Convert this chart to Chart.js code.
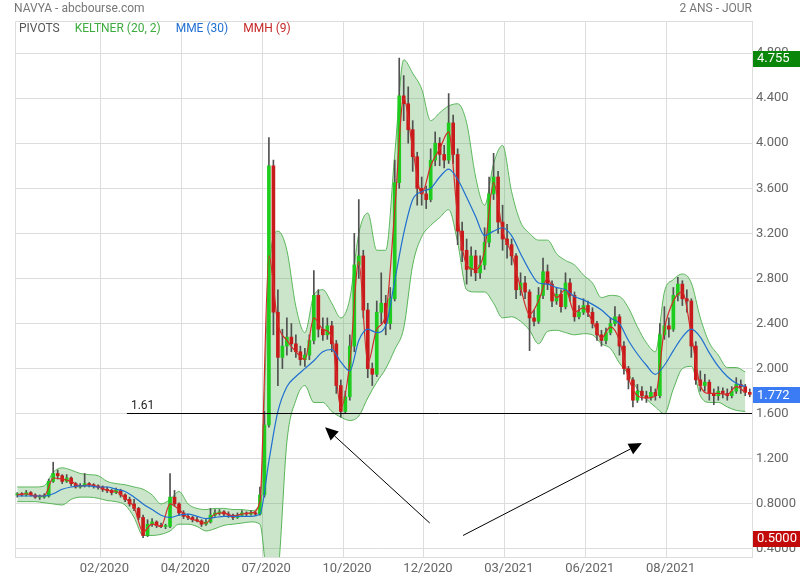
<!doctype html>
<html lang="fr">
  <head>
    <title>NAVYA - abcbourse.com</title>
    <script src="https://cdn.jsdelivr.net/npm/chart.js"></script>
    <style>
      body { margin: 0; background: #fff; }
      #chart { display: block; }
    </style>
  </head>
  <body>
    <canvas id="chart" width="800" height="580"></canvas>

    <script>
      // daily candles, one every ~3 sessions
      const opens = [
        0.88,0.89,0.88,0.90,0.88,0.86,0.86,0.87,1.00,1.07,
        1.05,1.00,1.03,0.98,0.95,0.96,0.98,0.97,0.96,0.95,
        0.93,0.92,0.90,0.92,0.88,0.84,0.80,0.76,0.68,0.52,
        0.62,0.64,0.61,0.60,0.60,0.86,0.80,0.72,0.69,0.68,
        0.66,0.65,0.62,0.64,0.70,0.72,0.73,0.71,0.70,0.68,
        0.70,0.72,0.71,0.72,0.71,0.88,1.50,3.80,2.50,2.10,
        2.20,2.28,2.22,2.15,2.08,2.12,2.25,2.65,2.35,2.30,
        2.38,2.22,1.85,1.62,1.75,2.20,2.92,3.00,2.52,2.00,
        1.95,2.50,2.58,2.40,2.62,3.65,4.42,4.35,4.12,3.88,
        3.60,3.55,3.50,3.85,4.00,3.90,3.85,4.18,3.90,3.22,
        3.05,2.88,3.00,2.85,2.92,3.12,3.55,3.70,3.30,3.15,
        3.10,3.00,2.70,2.76,2.68,2.45,2.42,2.65,2.86,2.75,
        2.60,2.66,2.55,2.76,2.65,2.46,2.50,2.56,2.50,2.40,
        2.30,2.25,2.32,2.40,2.46,2.20,2.00,1.90,1.72,1.80,
        1.76,1.74,1.79,1.76,2.30,2.38,2.35,2.65,2.75,2.62,
        2.60,2.20,1.90,1.85,1.88,1.78,1.76,1.80,1.78,1.76,
        1.80,1.86,1.84,1.79
      ];
      const highs = [
        0.90,0.90,0.92,0.91,0.89,0.88,0.89,1.02,1.17,1.10,
        1.06,1.06,1.04,0.99,0.98,1.07,0.99,0.98,0.97,0.96,
        0.95,0.93,0.94,0.93,0.89,0.86,0.84,0.77,0.70,0.66,
        0.67,0.65,0.63,0.62,1.07,0.92,0.81,0.74,0.71,0.69,
        0.68,0.66,0.66,0.76,0.75,0.75,0.74,0.73,0.71,0.72,
        0.74,0.73,0.74,0.73,0.95,1.62,4.05,3.85,2.70,2.35,
        2.45,2.40,2.30,2.20,2.18,2.30,2.87,2.70,2.45,2.45,
        2.42,2.25,1.90,1.80,2.30,3.20,3.50,3.05,2.58,2.05,
        2.60,2.85,2.65,2.72,3.85,4.755,4.60,4.50,4.20,3.92,
        3.70,3.62,3.95,4.10,4.05,3.98,4.44,4.25,3.95,3.30,
        3.15,3.08,3.05,3.00,3.25,3.70,3.91,3.75,3.45,3.28,
        3.15,3.02,2.85,2.82,2.70,2.52,2.72,2.98,2.92,2.78,
        2.72,2.70,2.85,2.80,2.68,2.56,2.62,2.60,2.54,2.42,
        2.34,2.36,2.45,2.55,2.48,2.24,2.02,1.92,1.86,1.84,
        1.80,1.84,1.82,2.40,2.55,2.45,2.72,2.81,2.78,2.70,
        2.62,2.24,1.98,1.95,1.90,1.82,1.84,1.83,1.82,1.84,
        1.92,1.90,1.86,1.82
      ];
      const lows = [
        0.86,0.87,0.87,0.87,0.85,0.84,0.85,0.86,0.99,1.02,
        0.98,0.99,0.96,0.94,0.94,0.95,0.95,0.94,0.93,0.91,
        0.90,0.88,0.89,0.86,0.82,0.78,0.74,0.66,0.50,0.51,
        0.60,0.59,0.59,0.58,0.59,0.78,0.70,0.67,0.66,0.64,
        0.64,0.60,0.61,0.63,0.69,0.70,0.69,0.68,0.66,0.67,
        0.69,0.69,0.70,0.70,0.70,0.86,1.48,2.30,1.85,2.00,
        2.12,2.15,2.10,2.03,2.02,2.08,2.22,2.28,2.25,2.26,
        2.15,1.78,1.57,1.60,1.72,2.15,2.80,2.45,1.92,1.85,
        1.93,2.40,2.30,2.35,2.60,3.60,4.20,4.00,3.75,3.45,
        3.45,3.42,3.48,3.80,3.80,3.78,3.82,3.82,3.10,2.95,
        2.75,2.82,2.78,2.80,2.88,3.08,3.50,3.20,3.05,2.98,
        2.92,2.62,2.65,2.62,2.16,2.38,2.40,2.62,2.70,2.55,
        2.57,2.50,2.53,2.60,2.42,2.44,2.48,2.46,2.36,2.25,
        2.20,2.22,2.30,2.38,2.12,1.95,1.82,1.66,1.70,1.72,
        1.70,1.72,1.72,1.74,2.26,2.28,2.33,2.60,2.56,2.50,
        2.10,1.86,1.80,1.80,1.72,1.68,1.72,1.74,1.72,1.74,
        1.78,1.78,1.76,1.75
      ];
      const closes = [
        0.89,0.88,0.90,0.88,0.86,0.86,0.87,1.00,1.07,1.05,
        1.00,1.03,0.98,0.95,0.96,0.98,0.97,0.96,0.95,0.93,
        0.92,0.90,0.92,0.88,0.84,0.80,0.76,0.68,0.52,0.62,
        0.64,0.61,0.60,0.60,0.86,0.80,0.72,0.69,0.68,0.66,
        0.65,0.62,0.64,0.70,0.72,0.73,0.71,0.70,0.68,0.70,
        0.72,0.71,0.72,0.71,0.88,1.50,3.80,2.50,2.10,2.20,
        2.28,2.22,2.15,2.08,2.12,2.25,2.65,2.35,2.30,2.38,
        2.22,1.85,1.62,1.75,2.20,2.92,3.00,2.52,2.00,1.95,
        2.50,2.58,2.40,2.62,3.65,4.42,4.35,4.12,3.88,3.60,
        3.55,3.50,3.85,4.00,3.90,3.85,4.18,3.90,3.22,3.05,
        2.88,3.00,2.85,2.92,3.12,3.55,3.70,3.30,3.15,3.10,
        3.00,2.70,2.76,2.68,2.45,2.42,2.65,2.86,2.75,2.60,
        2.66,2.55,2.76,2.65,2.46,2.50,2.56,2.50,2.40,2.30,
        2.25,2.32,2.40,2.46,2.20,2.00,1.90,1.72,1.80,1.76,
        1.74,1.79,1.76,2.30,2.38,2.35,2.65,2.75,2.62,2.60,
        2.20,1.90,1.85,1.88,1.78,1.76,1.80,1.78,1.76,1.80,
        1.86,1.84,1.79,1.772
      ];

      // indicators, one value every 2 candles
      const lineStep = 2;
      const keltnerUpper = [
        0.95,0.95,0.95,0.96,1.08,1.12,1.10,1.07,1.06,1.05,
        1.00,0.98,0.97,0.95,0.93,0.88,0.80,0.84,0.91,0.80,
        0.76,0.75,0.76,0.76,0.75,0.75,0.74,0.80,2.85,3.22,
        3.05,2.55,2.32,2.65,2.70,2.58,2.45,2.62,3.20,3.38,
        3.05,3.05,3.90,4.74,4.62,4.48,4.20,4.27,4.33,4.35,
        4.18,3.70,3.45,3.82,3.98,3.57,3.30,3.20,3.14,3.14,
        3.02,2.96,2.92,2.83,2.76,2.63,2.65,2.64,2.54,2.37,
        2.23,2.15,2.68,2.79,2.84,2.76,2.45,2.23,2.12,2.01,
        2.01,1.97
      ];
      const keltnerLower = [
        0.82,0.82,0.82,0.81,0.80,0.79,0.84,0.86,0.86,0.85,
        0.83,0.82,0.79,0.68,0.52,0.52,0.53,0.56,0.62,0.62,
        0.60,0.56,0.58,0.61,0.62,0.63,0.64,0.62,0.05,0.20,
        1.35,1.72,1.85,1.70,1.70,1.62,1.57,1.54,1.58,1.74,
        1.88,2.00,2.17,2.36,2.92,3.17,3.27,3.34,3.41,3.12,
        2.70,2.68,2.68,2.58,2.45,2.46,2.42,2.34,2.22,2.33,
        2.34,2.32,2.30,2.31,2.30,2.22,2.18,2.05,1.95,1.82,
        1.73,1.66,1.60,1.82,2.00,2.02,1.76,1.70,1.70,1.66,
        1.63,1.62
      ];
      const mme30 = [
        0.87,0.87,0.87,0.87,0.89,0.93,0.95,0.96,0.96,0.95,
        0.95,0.93,0.91,0.86,0.80,0.75,0.70,0.68,0.70,0.71,
        0.69,0.67,0.68,0.69,0.69,0.69,0.69,0.71,1.18,1.62,
        1.84,1.93,2.00,2.07,2.15,2.17,2.06,1.98,2.25,2.35,
        2.32,2.38,2.78,3.20,3.50,3.57,3.60,3.70,3.77,3.68,
        3.52,3.35,3.18,3.22,3.25,3.18,3.02,2.87,2.76,2.75,
        2.72,2.70,2.64,2.61,2.57,2.52,2.45,2.40,2.25,2.13,
        2.03,1.95,2.03,2.16,2.28,2.35,2.28,2.14,2.02,1.93,
        1.87,1.84
      ];
      const mmh9 = [
        0.88,0.89,0.87,0.87,1.03,1.02,1.00,0.96,0.97,0.95,
        0.92,0.91,0.85,0.77,0.55,0.62,0.60,0.80,0.75,0.68,
        0.65,0.63,0.71,0.72,0.69,0.71,0.72,0.82,3.00,2.40,
        2.25,2.15,2.08,2.45,2.35,2.28,1.65,2.05,2.95,2.05,
        2.35,2.48,3.40,4.40,3.95,3.55,3.80,3.95,4.10,3.35,
        2.92,2.88,3.05,3.65,3.22,3.02,2.72,2.48,2.60,2.80,
        2.63,2.70,2.50,2.54,2.42,2.27,2.37,2.25,1.92,1.76,
        1.74,1.76,2.35,2.60,2.68,2.30,1.85,1.78,1.78,1.77,
        1.84,1.79
      ];

      // axes
      const monthTicks = [18.5, 36.5, 54.5, 72.5, 90.5, 108.5, 126.5, 144.5];
      const monthLabels = ['02/2020', '04/2020', '07/2020', '10/2020', '12/2020', '03/2021', '06/2021', '08/2021'];
      const priceTicks = [0.4, 0.8, 1.2, 1.6, 2.0, 2.4, 2.8, 3.2, 3.6, 4.0, 4.4, 4.8];

      // drawings and markers
      const pivotLevel = 1.61;
      const pivotFrom = 24.4;
      const arrows = [
        { from: [91.8, 0.63], to: [68.5, 1.48] },
        { from: [99.2, 0.52], to: [139.0, 1.34] }
      ];
      const markers = [
        { value: 4.755, text: '4.755', color: '#0a870a' },
        { value: 1.772, text: '1.772', color: '#3b7cf4' },
        { value: 0.5, text: '0.5000', color: '#c20a0a' }
      ];

      const upColor = '#1ecc1e';
      const downColor = '#c81a1a';

      Chart.defaults.font.family = 'Roboto';

      const toLine = arr => arr.map((v, k) => ({ x: k * lineStep, y: v }));

      const overlay = {
        id: 'overlay',
        beforeDraw(chart) {
          const ctx = chart.ctx;
          ctx.save();
          ctx.fillStyle = '#fff';
          ctx.fillRect(0, 0, chart.width, chart.height);
          ctx.restore();
        },
        beforeDatasetsDraw(chart) {
          const { ctx, chartArea } = chart;
          ctx.save();
          ctx.strokeStyle = '#dddddd';
          ctx.lineWidth = 1;
          ctx.beginPath();
          ctx.moveTo(chartArea.left + 0.5, chartArea.bottom);
          ctx.lineTo(chartArea.left + 0.5, chartArea.top + 0.5);
          ctx.lineTo(chartArea.right, chartArea.top + 0.5);
          ctx.stroke();
          ctx.restore();
        },
        afterDatasetsDraw(chart) {
          const { ctx, chartArea } = chart;
          const sx = chart.scales.x, sy = chart.scales.y;
          ctx.save();
          // pivot line
          const py = Math.round(sy.getPixelForValue(pivotLevel)) + 0.5;
          const px = sx.getPixelForValue(pivotFrom);
          ctx.strokeStyle = '#000';
          ctx.lineWidth = 1;
          ctx.beginPath();
          ctx.moveTo(px, py);
          ctx.lineTo(chartArea.right, py);
          ctx.stroke();
          ctx.fillStyle = '#222';
          ctx.font = '12px Roboto';
          ctx.textBaseline = 'bottom';
          ctx.fillText(pivotLevel.toFixed(2), px + 4, py - 2);
          // arrows
          arrows.forEach(a => {
            const x1 = sx.getPixelForValue(a.from[0]), y1 = sy.getPixelForValue(a.from[1]);
            const x2 = sx.getPixelForValue(a.to[0]), y2 = sy.getPixelForValue(a.to[1]);
            const ang = Math.atan2(y2 - y1, x2 - x1);
            const len = 13, half = 6;
            const bx = x2 - len * Math.cos(ang), by = y2 - len * Math.sin(ang);
            ctx.beginPath();
            ctx.moveTo(x1, y1);
            ctx.lineTo(bx, by);
            ctx.stroke();
            ctx.beginPath();
            ctx.moveTo(x2, y2);
            ctx.lineTo(bx + half * Math.sin(ang), by - half * Math.cos(ang));
            ctx.lineTo(bx - half * Math.sin(ang), by + half * Math.cos(ang));
            ctx.closePath();
            ctx.fillStyle = '#000';
            ctx.fill();
          });
          ctx.restore();
        },
        afterDraw(chart) {
          const { ctx, chartArea } = chart;
          const sy = chart.scales.y;
          ctx.save();
          // header
          ctx.font = '12px Roboto';
          ctx.textBaseline = 'middle';
          ctx.fillStyle = '#777';
          ctx.textAlign = 'left';
          ctx.fillText('NAVYA - abcbourse.com', 14, 9);
          ctx.textAlign = 'right';
          ctx.fillText('2 ANS - JOUR', chartArea.right, 9);
          // indicator legend
          ctx.textAlign = 'left';
          let lx = 19;
          [['PIVOTS', '#555'], ['KELTNER (20, 2)', '#3dab3d'], ['MME (30)', '#1f6fd1'], ['MMH (9)', '#c62828']].forEach(([t, c]) => {
            ctx.fillStyle = c;
            ctx.fillText(t, lx, 29);
            lx += ctx.measureText(t).width + 15;
          });
          // price markers on the axis
          ctx.font = '13px Roboto';
          markers.forEach(m => {
            const y = sy.getPixelForValue(m.value) + 1;
            ctx.fillStyle = m.color;
            ctx.fillRect(chartArea.right + 1, Math.round(y - 8), chart.width - chartArea.right - 1, 16);
            ctx.fillStyle = '#fff';
            ctx.fillText(m.text, chartArea.right + 5, y);
          });
          ctx.restore();
        }
      };

      new Chart(document.getElementById('chart'), {
        type: 'bar',
        data: {
          datasets: [
            {
              type: 'line',
              label: 'Keltner haut',
              data: toLine(keltnerUpper),
              borderColor: '#5cb85c',
              borderWidth: 1,
              backgroundColor: 'rgba(80,170,80,0.3)',
              fill: '+1',
              pointRadius: 0,
              cubicInterpolationMode: 'monotone',
              order: 10
            },
            {
              type: 'line',
              label: 'Keltner bas',
              data: toLine(keltnerLower),
              borderColor: '#5cb85c',
              borderWidth: 1,
              fill: false,
              pointRadius: 0,
              cubicInterpolationMode: 'monotone',
              order: 10
            },
            {
              label: 'Mèches',
              data: highs.map((h, i) => ({ x: i, y: [lows[i], h] })),
              backgroundColor: '#505050',
              barThickness: 1,
              grouped: false,
              order: 6
            },
            {
              label: 'Corps',
              data: opens.map((o, i) => ({ x: i, y: [o, closes[i]] })),
              backgroundColor: ctx => closes[ctx.dataIndex] >= opens[ctx.dataIndex] ? upColor : downColor,
              barThickness: 3,
              minBarLength: 1,
              grouped: false,
              order: 5
            },
            {
              type: 'line',
              label: 'MMH (9)',
              data: toLine(mmh9),
              borderColor: '#d42a2a',
              borderWidth: 1.2,
              pointRadius: 0,
              cubicInterpolationMode: 'monotone',
              order: 3
            },
            {
              type: 'line',
              label: 'MME (30)',
              data: toLine(mme30),
              borderColor: '#1f6fd1',
              borderWidth: 1.2,
              pointRadius: 0,
              cubicInterpolationMode: 'monotone',
              order: 2
            }
          ]
        },
        options: {
          responsive: false,
          animation: false,
          layout: { padding: { left: 15, top: 21, right: 0, bottom: 0 } },
          plugins: {
            legend: { display: false },
            tooltip: { enabled: false }
          },
          scales: {
            x: {
              type: 'linear',
              min: -0.5,
              max: 163.5,
              offset: false,
              afterBuildTicks: s => { s.ticks = monthTicks.map(v => ({ value: v })); },
              afterFit: s => { s.height = 23; },
              ticks: {
                callback: (v, i) => monthLabels[i],
                color: '#666',
                font: { size: 13 },
                maxRotation: 0,
                autoSkip: false,
                labelOffset: 4,
                padding: 4
              },
              grid: { color: '#dddddd', drawTicks: false, offset: false },
              border: { color: '#dddddd' }
            },
            y: {
              type: 'linear',
              position: 'right',
              min: 0.329,
              max: 5.084,
              afterBuildTicks: s => { s.ticks = priceTicks.map(v => ({ value: v })); },
              afterFit: s => { s.width = 48; },
              ticks: {
                callback: v => v < 1 ? v.toFixed(4) : v.toFixed(3),
                color: '#666',
                font: { size: 13 },
                padding: 4
              },
              grid: { color: '#dddddd', drawTicks: false },
              border: { color: '#dddddd' }
            }
          }
        },
        plugins: [overlay]
      });
    </script>
  </body>
</html>
